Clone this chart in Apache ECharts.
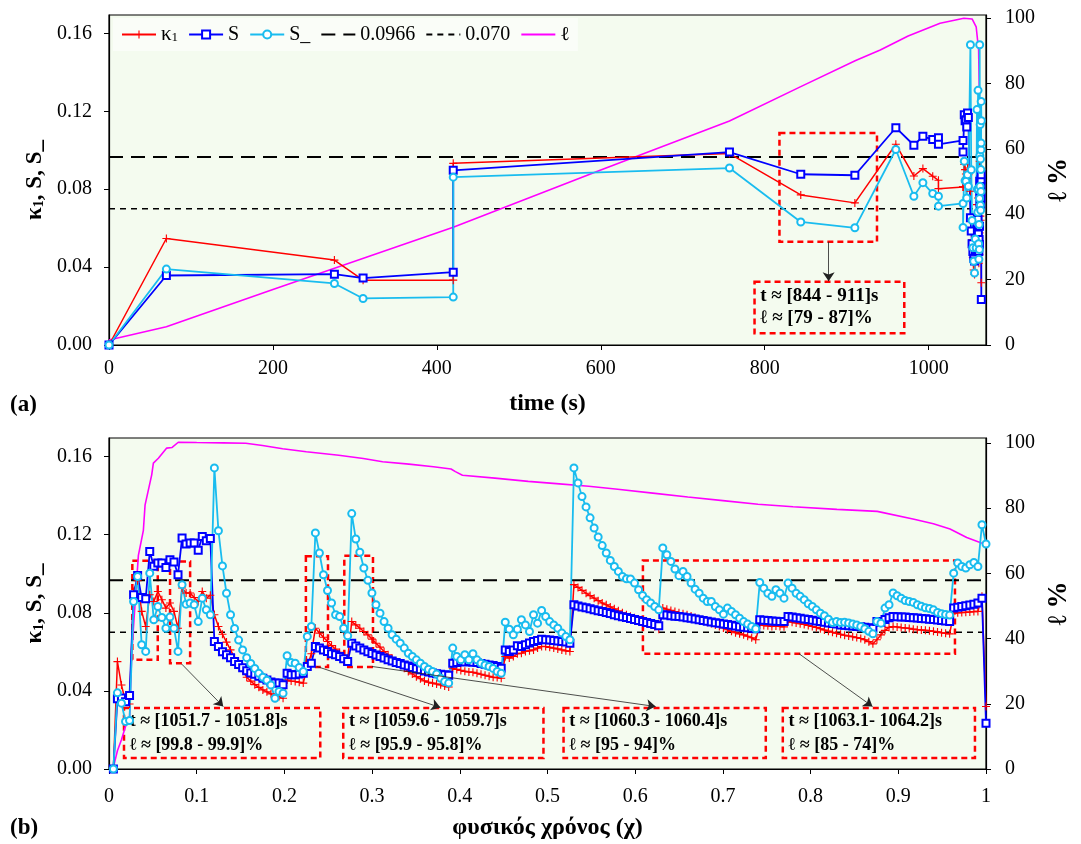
<!DOCTYPE html>
<html><head><meta charset="utf-8">
<script src="https://cdn.jsdelivr.net/npm/echarts@6/dist/echarts.min.js"></script>
<style>html,body{margin:0;padding:0;background:#fff}#c{width:1081px;height:844px}</style>
</head><body><div id="c"></div>
<script>
// ---------- reference levels ----------
const refHigh = 0.0966;
const refLow = 0.070;

// ---------- panel (a): time in seconds ----------
const timeTop = [0, 70, 275, 310, 420, 420, 757, 844, 910, 960, 982, 993, 1005, 1012, 1012, 1042, 1042,
  1043.5, 1044.5, 1045.5, 1046.5, 1047.5, 1048.5, 1051, 1052, 1053, 1054, 1055, 1056, 1057, 1058, 1059,
  1059.5, 1060, 1060.3, 1060.7, 1061, 1061.3, 1061.6, 1061.9, 1062.1, 1062.3, 1062.5, 1062.7, 1062.9,
  1063.1, 1063.3, 1063.5, 1063.7, 1063.8, 1063.9, 1064.0, 1064.1, 1064.3];
const k1Top = [0, 0.0547, 0.0436, 0.0333, 0.0333, 0.0933, 0.0983, 0.0771, 0.073, 0.1031, 0.0868, 0.0906, 0.0867, 0.0846, 0.0803, 0.0812, 0.0812,
  0.0927, 0.0901, 0.0878, 0.0858, 0.0909, 0.0875, 0.079, 0.065, 0.054, 0.045, 0.0385, 0.0362, 0.045, 0.044, 0.0721,
  0.06, 0.0565, 0.0755, 0.06, 0.048, 0.042, 0.0516, 0.0465, 0.0576, 0.0944, 0.08, 0.0716, 0.0824,
  0.0662, 0.0738, 0.0641, 0.073, 0.0692, 0.0798, 0.0807, 0.0884, 0.032];
const sTop = [0, 0.0357, 0.0364, 0.0344, 0.0374, 0.0897, 0.0991, 0.0877, 0.0872, 0.1116, 0.1026, 0.1072, 0.1055, 0.1065, 0.1031, 0.1051, 0.0991,
  0.1183, 0.1152, 0.1157, 0.112, 0.1191, 0.1169, 0.0653, 0.0585, 0.052, 0.048, 0.0445, 0.0431, 0.0482, 0.049, 0.0627,
  0.058, 0.055, 0.0644, 0.057, 0.05, 0.048, 0.0542, 0.0516, 0.061, 0.0841, 0.078, 0.0733, 0.079,
  0.0718, 0.0764, 0.0721, 0.0781, 0.0755, 0.0824, 0.085, 0.0875, 0.0234];
const sMinusTop = [0, 0.039, 0.0316, 0.0239, 0.0246, 0.0862, 0.0909, 0.0632, 0.0602, 0.1004, 0.0764, 0.0834, 0.0778, 0.0764, 0.0713, 0.0727, 0.0604,
  0.0944, 0.0844, 0.0841, 0.0755, 0.0875, 0.0815, 0.1542, 0.09, 0.064, 0.05, 0.043, 0.037, 0.0545, 0.0499, 0.1209,
  0.08, 0.0682, 0.1308, 0.08, 0.052, 0.044, 0.0619, 0.049, 0.0752, 0.1542, 0.0973, 0.0815, 0.1132,
  0.0718, 0.0955, 0.0692, 0.0901, 0.0788, 0.1003, 0.1037, 0.1251, 0.1152];
const timeEllTop = [0, 70, 200, 420, 600, 757, 844, 911, 941, 975, 1014, 1043, 1053, 1058, 1061, 1062.3];
const ellTop = [1.5, 5.6, 17, 36, 53.5, 68.5, 79, 87, 90.2, 94.5, 98.4, 99.9, 99.7, 97.3, 90.2, 69.3];

// ---------- panel (b): physical time chi (uniformly sampled) ----------
const k1Bottom = [
  0, 0.055, 0.043, 0.0345, 0.0333, 0.0909, 0.0964, 0.0807, 0.073, 0.0892,
  0.0858, 0.0909, 0.0867, 0.0824, 0.085, 0.0807, 0.0721, 0.0927, 0.0901, 0.0901,
  0.0878, 0.0858, 0.0909, 0.0875, 0.089, 0.079, 0.073, 0.069, 0.065, 0.061,
  0.057, 0.054, 0.0505, 0.047, 0.045, 0.0432, 0.0418, 0.0405, 0.0395, 0.0385,
  0.0362, 0.0371, 0.0362, 0.0456, 0.045, 0.0448, 0.0444, 0.044, 0.0525, 0.059,
  0.0721, 0.0696, 0.0675, 0.0653, 0.0632, 0.0614, 0.0597, 0.058, 0.0565, 0.0755,
  0.0738, 0.0721, 0.0704, 0.0687, 0.0665, 0.0644, 0.0624, 0.0602, 0.0585, 0.0567,
  0.055, 0.0533, 0.0516, 0.0499, 0.0487, 0.0473, 0.0462, 0.0451, 0.0444, 0.044,
  0.0435, 0.0431, 0.0425, 0.042, 0.0516, 0.051, 0.0505, 0.05, 0.0497, 0.0495,
  0.049, 0.0485, 0.048, 0.0475, 0.047, 0.0468, 0.0465, 0.0576, 0.0568, 0.0576,
  0.059, 0.0593, 0.0602, 0.0605, 0.061, 0.0619, 0.0627, 0.0627, 0.0623, 0.0619,
  0.0615, 0.061, 0.0605, 0.0602, 0.0944, 0.093, 0.0915, 0.09, 0.0888, 0.0875,
  0.0862, 0.085, 0.0841, 0.083, 0.082, 0.081, 0.08, 0.079, 0.0782, 0.0775,
  0.0768, 0.076, 0.0752, 0.0742, 0.073, 0.0716, 0.0824, 0.0818, 0.0812, 0.0806,
  0.08, 0.0795, 0.079, 0.0783, 0.0776, 0.0768, 0.076, 0.0752, 0.0745, 0.0738,
  0.073, 0.0722, 0.0713, 0.0705, 0.0698, 0.0692, 0.0687, 0.068, 0.0672, 0.0662,
  0.0738, 0.0735, 0.0733, 0.073, 0.0732, 0.073, 0.0728, 0.0755, 0.0752, 0.0748,
  0.0744, 0.074, 0.0735, 0.073, 0.0725, 0.0718, 0.0712, 0.0706, 0.07, 0.0695,
  0.069, 0.0685, 0.0681, 0.0677, 0.0673, 0.0668, 0.0662, 0.0652, 0.0641, 0.0662,
  0.0687, 0.071, 0.0725, 0.073, 0.0727, 0.0724, 0.0722, 0.072, 0.0716, 0.0713,
  0.0712, 0.071, 0.0708, 0.0705, 0.0702, 0.0698, 0.0695, 0.0692, 0.0798, 0.08,
  0.0801, 0.0803, 0.0804, 0.0806, 0.0807, 0.0884, 0.032];
const sBottom = [
  0, 0.036, 0.0364, 0.0344, 0.0376, 0.0892, 0.0991, 0.0878, 0.0872, 0.1114,
  0.1038, 0.1055, 0.1055, 0.1032, 0.1072, 0.106, 0.0995, 0.1183, 0.1152, 0.1157,
  0.1157, 0.112, 0.1191, 0.1169, 0.118, 0.0653, 0.0627, 0.06, 0.0585, 0.057,
  0.055, 0.0535, 0.0518, 0.0503, 0.0492, 0.0485, 0.0475, 0.0465, 0.0456, 0.0445,
  0.044, 0.044, 0.0431, 0.049, 0.0482, 0.0482, 0.0486, 0.049, 0.0525, 0.0542,
  0.0627, 0.0619, 0.061, 0.0602, 0.059, 0.0585, 0.0576, 0.0565, 0.055, 0.0644,
  0.063, 0.062, 0.061, 0.06, 0.0592, 0.0584, 0.0576, 0.0568, 0.056, 0.0553,
  0.0546, 0.054, 0.0533, 0.0527, 0.052, 0.0514, 0.0508, 0.0502, 0.0497, 0.0492,
  0.0488, 0.0485, 0.0482, 0.048, 0.0542, 0.0545, 0.055, 0.0548, 0.055, 0.0547,
  0.0545, 0.054, 0.0537, 0.0533, 0.053, 0.0525, 0.0516, 0.061, 0.0602, 0.061,
  0.0631, 0.0627, 0.0636, 0.0645, 0.0653, 0.0658, 0.0665, 0.0662, 0.066, 0.0658,
  0.0655, 0.0653, 0.065, 0.0644, 0.0841, 0.0835, 0.083, 0.0826, 0.0821, 0.0816,
  0.0811, 0.0806, 0.0801, 0.0796, 0.079, 0.0785, 0.078, 0.0776, 0.0771, 0.0766,
  0.076, 0.0755, 0.075, 0.0745, 0.074, 0.0733, 0.079, 0.0788, 0.0785, 0.0782,
  0.0781, 0.0778, 0.0775, 0.0772, 0.0768, 0.0764, 0.076, 0.0757, 0.0753, 0.0749,
  0.0747, 0.0743, 0.074, 0.0736, 0.0732, 0.0729, 0.0726, 0.0723, 0.0721, 0.0718,
  0.0764, 0.0762, 0.076, 0.0758, 0.0757, 0.0755, 0.0755, 0.0781, 0.0778, 0.0775,
  0.0772, 0.0768, 0.0765, 0.0762, 0.0758, 0.0755, 0.0752, 0.0748, 0.0745, 0.0742,
  0.0738, 0.0736, 0.0734, 0.0732, 0.073, 0.0728, 0.0726, 0.0723, 0.0721, 0.0755,
  0.0752, 0.0765, 0.0775, 0.0781, 0.078, 0.0779, 0.0778, 0.0776, 0.0775, 0.0773,
  0.0771, 0.0769, 0.0767, 0.0765, 0.0763, 0.0761, 0.0758, 0.0755, 0.0824, 0.0828,
  0.0832, 0.0836, 0.084, 0.0844, 0.085, 0.0875, 0.0234];
const sMinusBottom = [
  0, 0.039, 0.0337, 0.0243, 0.0248, 0.0858, 0.0986, 0.0636, 0.0602, 0.1003,
  0.0764, 0.0832, 0.0776, 0.0721, 0.0778, 0.0721, 0.0602, 0.0944, 0.0844, 0.085,
  0.0841, 0.0755, 0.0875, 0.0815, 0.079, 0.1542, 0.122, 0.104, 0.09, 0.079,
  0.072, 0.066, 0.061, 0.057, 0.054, 0.0515, 0.049, 0.047, 0.0455, 0.043,
  0.0362, 0.0397, 0.0388, 0.058, 0.0545, 0.0542, 0.052, 0.0499, 0.0679, 0.073,
  0.1209, 0.1106, 0.0995, 0.0914, 0.085, 0.079, 0.0781, 0.0721, 0.0682, 0.1308,
  0.1178, 0.111, 0.1029, 0.0966, 0.0901, 0.0841, 0.0798, 0.0755, 0.0721, 0.0687,
  0.0665, 0.0644, 0.0619, 0.0593, 0.0576, 0.0559, 0.0542, 0.0525, 0.0511, 0.0499,
  0.0486, 0.0465, 0.0448, 0.044, 0.0619, 0.0576, 0.0559, 0.0585, 0.0559, 0.059,
  0.0559, 0.0542, 0.0533, 0.0525, 0.0515, 0.0499, 0.049, 0.0752, 0.0716, 0.0687,
  0.0716, 0.0764, 0.0738, 0.0704, 0.079, 0.0747, 0.0812, 0.0781, 0.0755, 0.0738,
  0.0721, 0.0696, 0.0678, 0.0662, 0.1542, 0.1465, 0.1395, 0.1342, 0.1286, 0.1234,
  0.1188, 0.1144, 0.1106, 0.1068, 0.1037, 0.1012, 0.0986, 0.0974, 0.0973, 0.0952,
  0.0918, 0.0889, 0.0867, 0.085, 0.0832, 0.0815, 0.1132, 0.1097, 0.1063, 0.1024,
  0.099, 0.1012, 0.0986, 0.0952, 0.0921, 0.09, 0.0875, 0.0858, 0.0858, 0.0832,
  0.0815, 0.0793, 0.0824, 0.0807, 0.079, 0.0772, 0.0755, 0.0742, 0.073, 0.0718,
  0.0955, 0.0926, 0.09, 0.0884, 0.0918, 0.09, 0.0875, 0.0952, 0.0926, 0.09,
  0.0884, 0.0867, 0.0846, 0.0832, 0.0815, 0.0798, 0.0785, 0.0767, 0.075, 0.0755,
  0.075, 0.0752, 0.0748, 0.0742, 0.0738, 0.073, 0.0718, 0.0705, 0.0692, 0.0755,
  0.0747, 0.0824, 0.0841, 0.0901, 0.0887, 0.0875, 0.0863, 0.0858, 0.0853, 0.0841,
  0.0833, 0.0826, 0.0822, 0.0815, 0.0802, 0.0795, 0.0791, 0.0788, 0.1003, 0.1055,
  0.1037, 0.1029, 0.1046, 0.1058, 0.1037, 0.1251, 0.1152];
const chiEll = [0.005, 0.0096, 0.0142, 0.0188, 0.0234, 0.026, 0.0335, 0.0392, 0.0411, 0.0487, 0.0506, 0.0563, 0.0658, 0.072, 0.079,
  0.10, 0.13, 0.156, 0.175, 0.198, 0.225, 0.262, 0.29, 0.312, 0.342, 0.37, 0.39, 0.395, 0.403, 0.44, 0.478, 0.51, 0.547,
  0.58, 0.62, 0.66, 0.70, 0.74, 0.78, 0.83, 0.876, 0.918, 0.94, 0.959, 0.978, 0.994, 1.0];
const ellBottom = [0.5, 5.6, 9, 13, 15.5, 36, 65.5, 73.2, 80.9, 90.2, 93.8, 95.3, 98.4, 98.6, 100.2,
  100.1, 100, 99.9, 99.2, 98.2, 97.3, 96.2, 95.2, 94.2, 93.5, 92.7, 92.0, 91.2, 90.1, 89.2, 88.2, 87.5, 86.7,
  85.8, 84.6, 83.4, 82.3, 81.2, 80.4, 79.6, 79.0, 76.6, 75.2, 73.6, 71.0, 69.4, 69.0];

// ---------- tick labels ----------
const timeTicks = [0, 200, 400, 600, 800, 1000];
const chiTicks = [0, 0.1, 0.2, 0.3, 0.4, 0.5, 0.6, 0.7, 0.8, 0.9, 1];
const kTicks = [0, 0.04, 0.08, 0.12, 0.16];
const ellTicks = [0, 20, 40, 60, 80, 100];

// ---------- build ----------
const FONT = '"Liberation Serif", "Times New Roman", serif';
const RED = '#FF0000', BLUE = '#0000FF', CYAN = '#19BCEF', MAG = '#FF00FF';
const BG = '#F4FBEF';
const PLUS = 'path://M4.3,0H5.7V4.3H10V5.7H5.7V10H4.3V5.7H0V4.3H4.3Z';

// sampling positions of panel (b): equally spaced samples in chi
const chi = k1Bottom.map((_, i) => 0.005 + i * 0.995 / (k1Bottom.length - 1));
const pairs = (xs, ys) => xs.map((x, i) => [x, ys[i]]);

const STY = {
  k: { symbol: PLUS, size: 8, color: RED, width: 1.5, bw: 0 },
  s: { symbol: 'emptyRect', size: 7, color: BLUE, width: 1.8, bw: 1.1 },
  m: { symbol: 'emptyCircle', size: 7, color: CYAN, width: 1.8, bw: 1.2 }
};
function dataSeries(name, xs, ys, xa, ya, kind) {
  const st = STY[kind];
  return {
    name, type: 'line', xAxisIndex: xa, yAxisIndex: ya, data: pairs(xs, ys),
    symbol: st.symbol, symbolSize: st.size, showSymbol: true, showAllSymbol: true,
    lineStyle: { color: st.color, width: st.width },
    itemStyle: { color: st.color, borderColor: st.color, borderWidth: st.bw },
    z: 3, animation: false
  };
}
function ellSeries(xs, ys, xa, ya) {
  return { name: 'ℓ', type: 'line', xAxisIndex: xa, yAxisIndex: ya, data: pairs(xs, ys),
    symbol: 'none', lineStyle: { color: MAG, width: 1.6 }, itemStyle: { color: MAG }, z: 2, animation: false };
}
const boxStyle = { color: 'rgba(0,0,0,0)', borderColor: '#FF0000', borderWidth: 2.5, borderType: [6, 4] };
const boxLabel = (fs, lh) => ({ show: true, position: 'insideLeft', distance: 7, fontFamily: FONT, fontSize: fs,
  fontWeight: 'bold', color: '#000', lineHeight: lh, formatter: p => p.name || '' });
function refSeries(name, y, xmax, xa, ya, dash, w, marks) {
  const s = { name, type: 'line', xAxisIndex: xa, yAxisIndex: ya, data: [[0, y], [xmax, y]],
    symbol: 'none', lineStyle: { color: '#000', width: w, type: dash }, itemStyle: { color: '#000' }, z: 2, animation: false };
  return Object.assign(s, marks || {});
}
const arrowLines = segs => ({ silent: true, animation: false, symbol: ['none', 'arrow'], symbolSize: 9,
  lineStyle: { color: '#222', width: 0.8, type: 'solid' }, label: { show: false },
  data: segs.map(s => [{ coord: [s[0], s[1]] }, { coord: [s[2], s[3]] }]) });
const rects = (items, fs, lh) => ({ silent: true, animation: false, itemStyle: boxStyle, label: boxLabel(fs, lh),
  data: items.map(b => [{ name: b[4] || '', coord: [b[0], b[1]] }, { coord: [b[2], b[3]] }]) });

const topMarks = {
  markArea: rects([
    [818, 0.1089, 937, 0.053],
    [787.6, 0.0325, 970.3, 0.006, 't ≈ [844 - 911]s\nℓ ≈ [79 - 87]%']
  ], 19, 22),
  markLine: arrowLines([[878, 0.053, 878, 0.0328]])
};
const botMarks = {
  markArea: rects([
    [0.0266, 0.1067, 0.0556, 0.0559],
    [0.0696, 0.1063, 0.0925, 0.0542],
    [0.2245, 0.1089, 0.2497, 0.0522],
    [0.2683, 0.1092, 0.301, 0.0522],
    [0.6088, 0.1068, 0.9646, 0.059],
    [0.0171, 0.0313, 0.2409, 0.0056, 't ≈ [1051.7 - 1051.8]s\nℓ ≈ [99.8 - 99.9]%'],
    [0.2671, 0.0313, 0.4954, 0.0056, 't ≈ [1059.6 - 1059.7]s\nℓ ≈ [95.9 - 95.8]%'],
    [0.5183, 0.0313, 0.7489, 0.0056, 't ≈ [1060.3 - 1060.4]s\nℓ ≈ [95 - 94]%'],
    [0.7683, 0.0313, 0.9874, 0.0056, 't ≈ [1063.1- 1064.2]s\nℓ ≈ [85 - 74]%']
  ], 18, 24),
  markLine: arrowLines([
    [0.083, 0.0537, 0.1303, 0.032],
    [0.237, 0.0525, 0.3779, 0.0315],
    [0.2999, 0.0525, 0.6233, 0.032],
    [0.7869, 0.059, 0.8706, 0.032]
  ])
};

const lblStyle = { fontFamily: FONT, fontSize: 20, color: '#000' };
const tickStyle = { show: true, inside: false, length: 5, lineStyle: { color: '#000', width: 1 } };
const axLine = { show: true, lineStyle: { color: '#000', width: 1.2 } };
const kName = '{k|κ}{s|1}{k|, S, S_}';
const kRich = { k: { fontFamily: FONT, fontSize: 23, fontWeight: 'bold', color: '#000' },
  s: { fontFamily: FONT, fontSize: 14, fontWeight: 'bold', color: '#000', padding: [9, 0, 0, 0] } };
const nameBold = { fontFamily: FONT, fontSize: 24, fontWeight: 'bold', color: '#000' };

function xAx(idx, max, ticks, name, fmt, margin) {
  return { type: 'value', gridIndex: idx, min: 0, max: max, name, nameLocation: 'middle', nameGap: 47,
    nameTextStyle: nameBold, axisLine: axLine,
    axisTick: Object.assign({ customValues: ticks }, tickStyle),
    axisLabel: Object.assign({ customValues: ticks, formatter: fmt, margin }, lblStyle),
    splitLine: { show: false } };
}
function kAx(idx) {
  return { type: 'value', gridIndex: idx, min: 0, max: 0.1695, position: 'left', name: kName, nameLocation: 'middle',
    nameRotate: 90, nameGap: 61, nameTextStyle: { rich: kRich }, axisLine: axLine,
    axisTick: Object.assign({ customValues: kTicks }, tickStyle),
    axisLabel: Object.assign({ customValues: kTicks, formatter: v => v.toFixed(2), margin: 17 }, lblStyle),
    splitLine: { show: false } };
}
function ellAx(idx, max) {
  return { type: 'value', gridIndex: idx, min: 0, max: max, position: 'right', name: 'ℓ %', nameLocation: 'middle',
    nameRotate: 90, nameGap: 60, nameTextStyle: { fontFamily: FONT, fontSize: 27, fontWeight: 'bold', color: '#000' },
    axisLine: axLine,
    axisTick: Object.assign({ customValues: ellTicks }, tickStyle),
    axisLabel: Object.assign({ customValues: ellTicks, formatter: v => String(v), margin: 19 }, lblStyle),
    splitLine: { show: false } };
}

const noSym = { opacity: 0 };
const option = {
  animation: false,
  backgroundColor: '#FFFFFF',
  textStyle: { fontFamily: FONT },
  grid: [
    { left: 109, top: 15, width: 877, height: 330, show: true, backgroundColor: BG, borderColor: '#000', borderWidth: 1.2 },
    { left: 109, top: 438, width: 877, height: 331, show: true, backgroundColor: BG, borderColor: '#000', borderWidth: 1.2 }
  ],
  xAxis: [
    xAx(0, 1070, timeTicks, 'time (s)', v => String(v), 14),
    xAx(1, 1, chiTicks, 'φυσικός χρόνος (χ)', v => String(Math.round(v * 10) / 10), 18)
  ],
  yAxis: [kAx(0), ellAx(0, 100.9), kAx(1), ellAx(1, 101.5)],
  legend: {
    data: ['κ1', 'S', 'S_',
      { name: '0.0966', itemStyle: noSym },
      { name: '0.070', itemStyle: noSym },
      { name: 'ℓ', itemStyle: noSym }],
    left: 113, top: 18, itemWidth: 34, itemHeight: 10, itemGap: 10,
    backgroundColor: '#FAFDF8', padding: [6, 8, 6, 8],
    textStyle: { fontFamily: FONT, fontSize: 20, color: '#000',
      rich: { k: { fontFamily: FONT, fontSize: 21, color: '#000' }, s: { fontFamily: FONT, fontSize: 13, color: '#000', padding: [6, 0, 0, 0] } } },
    formatter: n => (n === 'κ1' ? '{k|κ}{s|1}' : n)
  },
  graphic: [
    { type: 'text', left: 10, top: 394, style: { text: '(a)', fontFamily: FONT, fontSize: 23, fontWeight: 'bold', fill: '#000' } },
    { type: 'text', left: 10, top: 817, style: { text: '(b)', fontFamily: FONT, fontSize: 23, fontWeight: 'bold', fill: '#000' } }
  ],
  series: [
    refSeries('0.0966', refHigh, 1070, 0, 0, [14, 8], 2, null),
    refSeries('0.070', refLow, 1070, 0, 0, [6, 5], 1.5, topMarks),
    ellSeries(timeEllTop, ellTop, 0, 1),
    dataSeries('κ1', timeTop, k1Top, 0, 0, 'k'),
    dataSeries('S', timeTop, sTop, 0, 0, 's'),
    dataSeries('S_', timeTop, sMinusTop, 0, 0, 'm'),

    refSeries('0.0966', refHigh, 1, 1, 2, [14, 8], 2, null),
    refSeries('0.070', refLow, 1, 1, 2, [6, 5], 1.5, botMarks),
    ellSeries(chiEll, ellBottom, 1, 3),
    dataSeries('κ1', chi, k1Bottom, 1, 2, 'k'),
    dataSeries('S', chi, sBottom, 1, 2, 's'),
    dataSeries('S_', chi, sMinusBottom, 1, 2, 'm')
  ]
};
const chart = echarts.init(document.getElementById('c'), null, { renderer: 'canvas' });
chart.setOption(option);
</script></body></html>
